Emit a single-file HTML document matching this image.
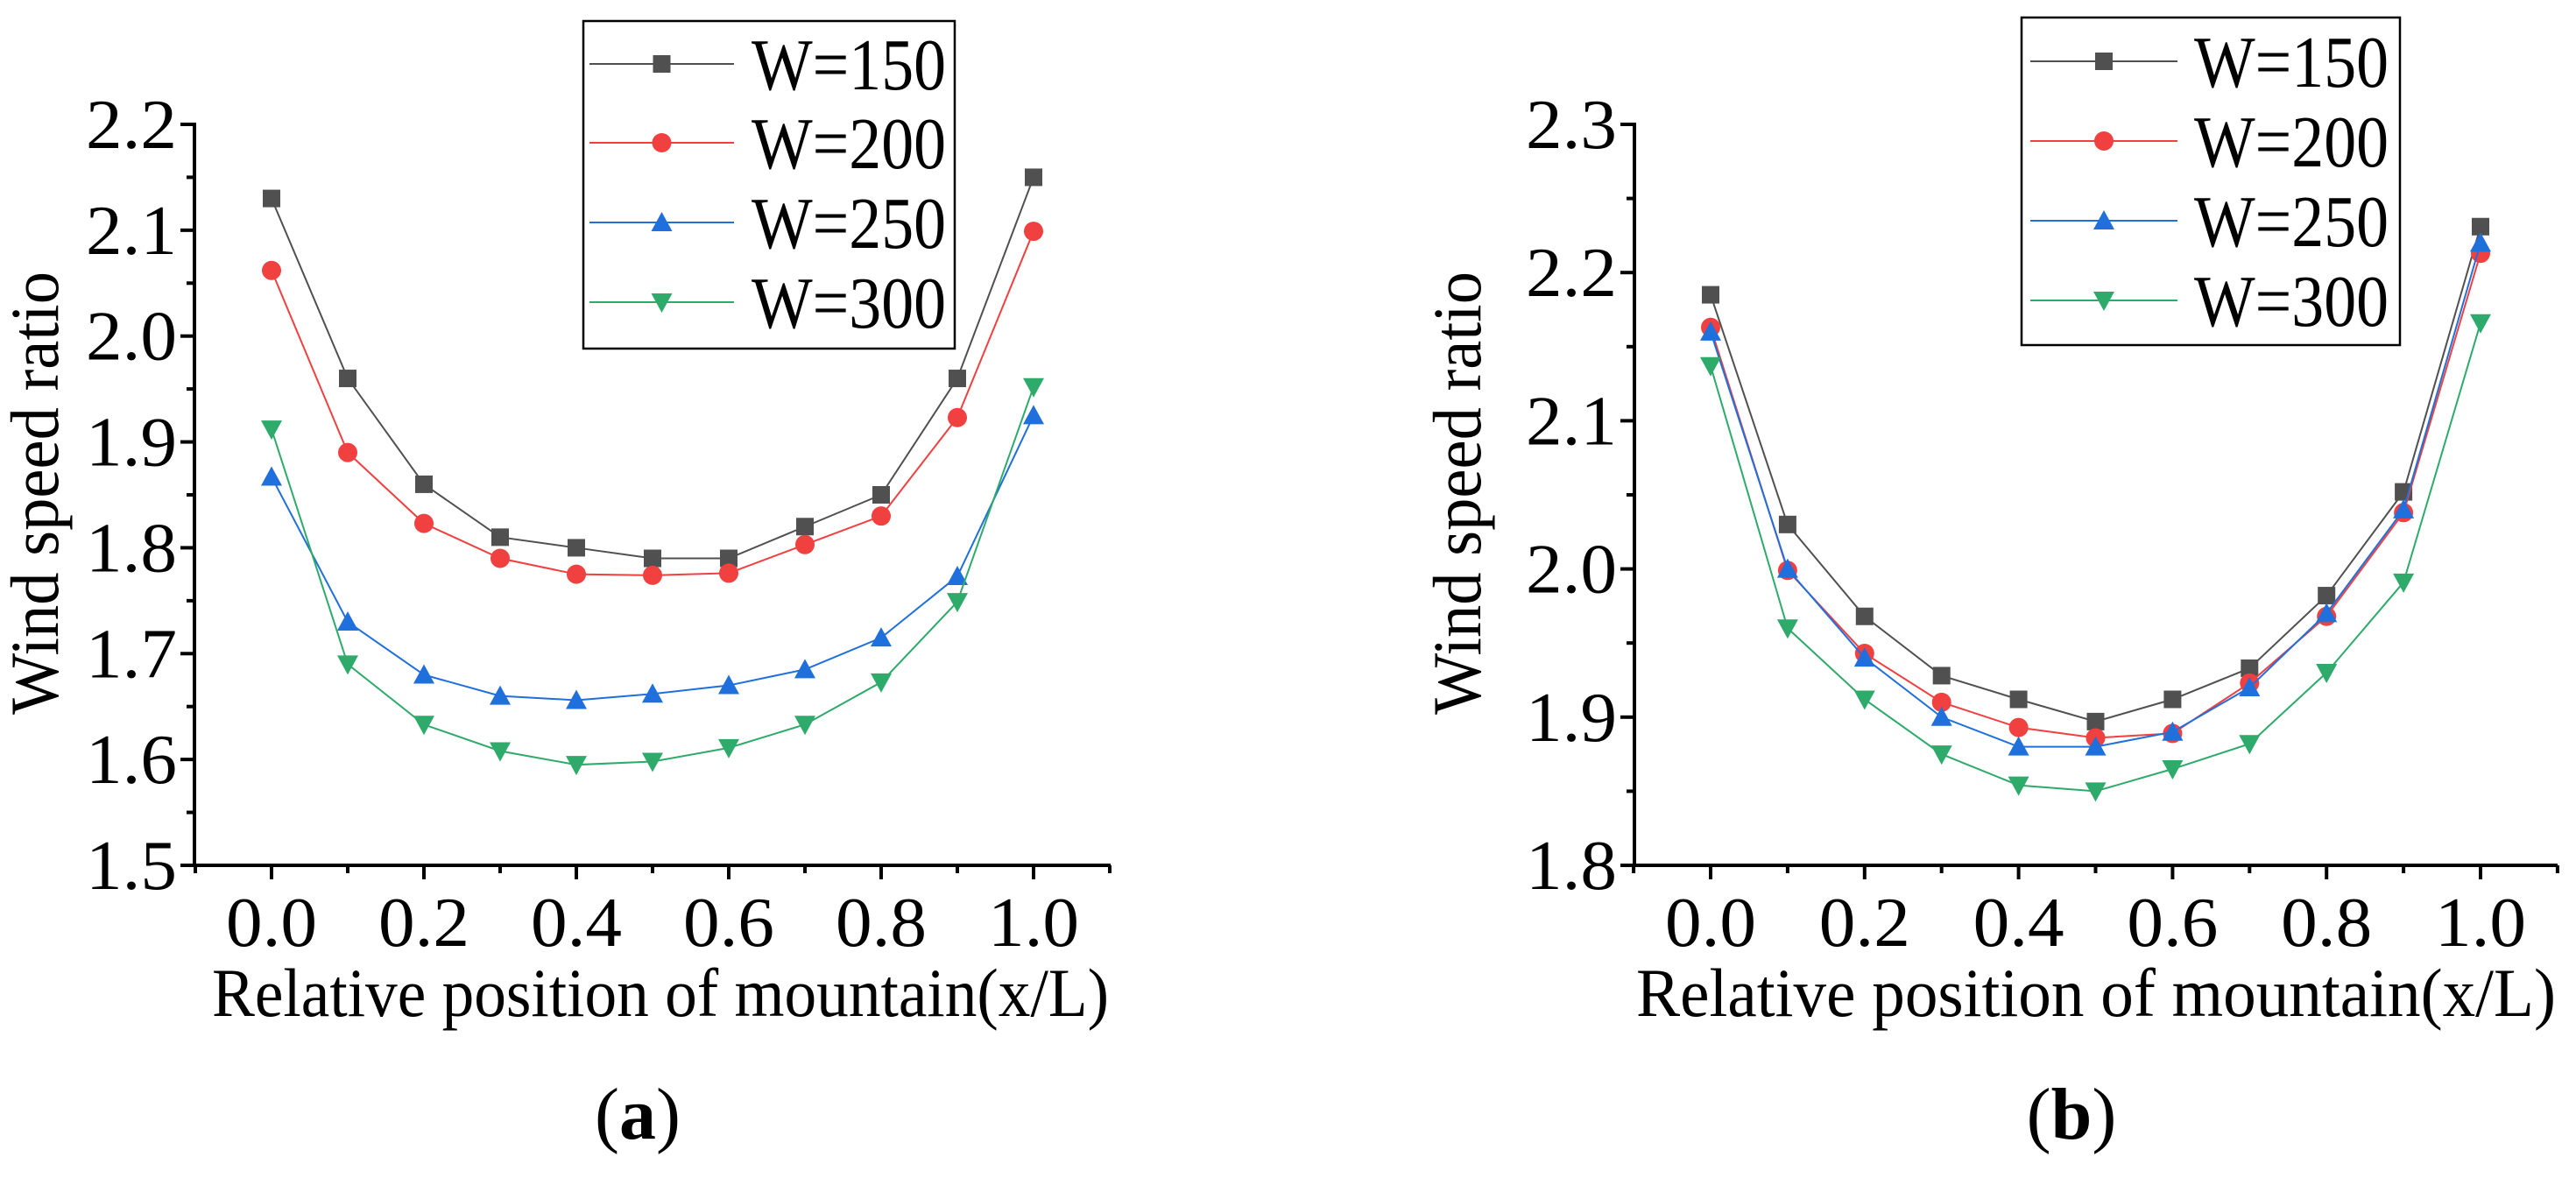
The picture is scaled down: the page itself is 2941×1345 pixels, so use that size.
<!DOCTYPE html>
<html><head><meta charset="utf-8"><style>
html,body{margin:0;padding:0;background:#fff;}
svg{display:block;}
svg text{font-family:"Liberation Serif","DejaVu Serif","Times New Roman",serif;}
</style></head><body>
<svg id="fig" width="2941" height="1345" viewBox="0 0 2941 1345" xmlns="http://www.w3.org/2000/svg"></svg>
<script>
const xCats=[0,0.1,0.2,0.3,0.4,0.5,0.6,0.7,0.8,0.9,1.0];
const xTickLabels=["0.0","0.2","0.4","0.6","0.8","1.0"];
const seriesNames=["W=150","W=200","W=250","W=300"];
const a150=[2.13,1.96,1.86,1.81,1.80,1.79,1.79,1.82,1.85,1.96,2.15];
const a200=[2.062,1.89,1.823,1.79,1.775,1.774,1.776,1.803,1.83,1.923,2.099];
const a250=[1.867,1.73,1.68,1.66,1.656,1.662,1.67,1.685,1.715,1.773,1.925];
const a300=[1.912,1.69,1.633,1.608,1.595,1.598,1.611,1.633,1.673,1.749,1.952];
const aYTicks=["1.5","1.6","1.7","1.8","1.9","2.0","2.1","2.2"];
const b150=[2.185,2.03,1.968,1.928,1.912,1.897,1.912,1.933,1.982,2.052,2.231];
const b200=[2.163,1.999,1.943,1.91,1.893,1.886,1.889,1.923,1.968,2.038,2.213];
const b250=[2.160,2.0,1.94,1.90,1.88,1.88,1.89,1.92,1.97,2.04,2.22];
const b300=[2.137,1.96,1.912,1.875,1.854,1.85,1.865,1.882,1.93,1.991,2.166];
const bYTicks=["1.8","1.9","2.0","2.1","2.2","2.3"];

const colors=["#505050","#f04040","#1f6fdc","#2eaa6a"];
const markers=["square","circle","up","down"];
const NS="http://www.w3.org/2000/svg";
const svg=document.getElementById('fig');
function mk(tag,attrs,parent){const e=document.createElementNS(NS,tag);for(const k in attrs)e.setAttribute(k,attrs[k]);(parent||svg).appendChild(e);return e;}
function marker(g,type,x,y,c){
  let e;
  if(type==="square")e=mk('rect',{x:x-10,y:y-10,width:20,height:20,fill:c},g);
  else if(type==="circle")e=mk('circle',{cx:x,cy:y,r:11,fill:c},g);
  else if(type==="up")e=mk('polygon',{points:`${x},${y-12} ${x-12},${y+10} ${x+12},${y+10}`,fill:c},g);
  else e=mk('polygon',{points:`${x},${y+12} ${x-12},${y-10} ${x+12},${y-10}`,fill:c},g);
  return e;
}
function chart(cfg){
  const g=mk('g',{});
  
  
  const X=v=>cfg.x0+(v-0)*(cfg.x1-cfg.x0);
  const Y=v=>cfg.yb-(v-cfg.ymin)/(cfg.ymax-cfg.ymin)*(cfg.yb-cfg.yt);
  const ax=mk('path',{d:`M${cfg.axL},${cfg.yt-2} V${cfg.yb} H${cfg.axR}`,stroke:'#000','stroke-width':4,fill:'none'},g);
  
  
  const yt=cfg.yTicks;
  for(let i=0;i<yt.length;i++){
    const v=parseFloat(yt[i]);const y=Y(v);
    mk('line',{x1:cfg.axL-16,x2:cfg.axL,y1:y,y2:y,stroke:'#000','stroke-width':4},g);
    if(i<yt.length-1){const ym=Y(v+0.05);mk('line',{x1:cfg.axL-9,x2:cfg.axL,y1:ym,y2:ym,stroke:'#000','stroke-width':4},g);}
    const t=mk('text',{x:cfg.axL-20,y:y+27,'text-anchor':'end','font-size':80,textLength:104,lengthAdjust:'spacingAndGlyphs'},g);t.textContent=yt[i];
    
    
  }
  for(let v=-0.1;v<=1.101;v+=0.1){
    const x=X(v);const major=Math.round(v*10)%2===0;
    if(x<cfg.axL-1)continue;
    mk('line',{x1:x,x2:x,y1:cfg.yb,y2:cfg.yb+(major?16:9),stroke:'#000','stroke-width':4},g);
  }
  xTickLabels.forEach(s=>{const t=mk('text',{x:X(parseFloat(s)),y:cfg.yb+92,'text-anchor':'middle','font-size':80,textLength:104,lengthAdjust:'spacingAndGlyphs'},g);t.textContent=s;
    
    });
  const xt=mk('text',{x:cfg.xtx,y:cfg.yb+172,'text-anchor':'middle','font-size':78,textLength:cfg.xtw,lengthAdjust:'spacingAndGlyphs'},g);xt.textContent="Relative position of mountain(x/L)";
  
  
  const ytl=mk('text',{x:0,y:0,'text-anchor':'middle','font-size':78,textLength:506,lengthAdjust:'spacingAndGlyphs',transform:`translate(${cfg.ytx},${cfg.yty}) rotate(-90)`},g);ytl.textContent="Wind speed ratio";
  
  
  cfg.series.forEach((arr,si)=>{
    const sg=mk('g',{},g);
    
    
    mk('polyline',{points:arr.map((v,i)=>X(xCats[i])+','+Y(v)).join(' '),fill:'none',stroke:colors[si],'stroke-width':2},sg);
    arr.forEach((v,i)=>{const m=marker(sg,markers[si],X(xCats[i]),Y(v),colors[si]);
      
      });
  });
  const L=cfg.leg;
  const lg=mk('g',{},g);
  
  
  mk('rect',{x:L.x,y:L.y,width:L.w,height:L.h,fill:'#fff',stroke:'#000','stroke-width':2.5},lg);
  seriesNames.forEach((n,i)=>{
    const y=L.rows[i];
    mk('line',{x1:L.lx1,x2:L.lx2,y1:y,y2:y,stroke:colors[i],'stroke-width':2},lg);
    marker(lg,markers[i],(L.lx1+L.lx2)/2,y,colors[i]);
    const t=mk('text',{x:L.tx,y:y+29,'font-size':84,textLength:222,lengthAdjust:'spacingAndGlyphs'},lg);t.textContent=n;
    
    
  });
  const cap=mk('text',{x:cfg.capx,y:1300,'text-anchor':'middle','font-size':84},g);
  cap.innerHTML=`(<tspan font-weight="bold">${cfg.cap}</tspan>)`;
  
  
}
chart({name:'chart-a',x0:310,x1:1180,axL:222,axR:1268,yt:142,yb:988,ymin:1.5,ymax:2.2,yTicks:aYTicks,
  series:[a150,a200,a250,a300],ytx:66,yty:563,capx:728,cap:'a',xtx:754,xtw:1024,
  leg:{x:666,y:24,w:424,h:374,lx1:673,lx2:838,tx:858,rows:[73,163,254,345]}});
chart({name:'chart-b',x0:1953,x1:2832,axL:1866,axR:2920,yt:142,yb:988,ymin:1.8,ymax:2.3,yTicks:bYTicks,
  series:[b150,b200,b250,b300],ytx:1690,yty:563,capx:2365,cap:'b',xtx:2393,xtw:1050,
  leg:{x:2308,y:20,w:432,h:374,lx1:2318,lx2:2486,tx:2505,rows:[70,161,252,343]}});
</script>
</body></html>
